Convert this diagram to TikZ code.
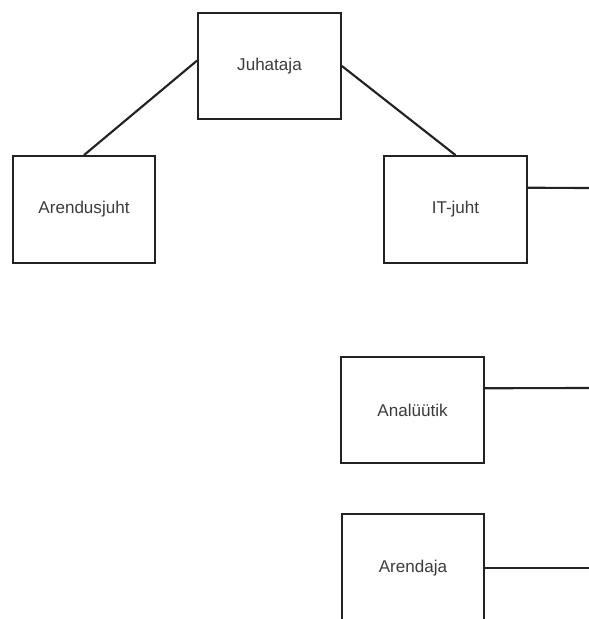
\documentclass[tikz,border=0pt]{standalone}
\usepackage{fontspec}
\setmainfont{Liberation Sans}
\usetikzlibrary{calc}
\definecolor{txt}{RGB}{60,60,60}
\definecolor{edge}{RGB}{34,34,34}
\tikzset{
  rolebox/.style={draw=edge, line width=1.6pt, fill=white, rectangle,
    minimum width=107pt, minimum height=80pt, inner sep=0pt,
    text=txt, font=\fontsize{12.8pt}{15pt}\selectfont},
  link/.style={draw=edge, line width=1.6pt}
}
\begin{document}
\begin{tikzpicture}[x=0.75pt,y=-0.75pt]
\useasboundingbox (0,0) rectangle (589,619);
\clip (0,0) rectangle (589,619);
\node[rolebox] (j) at (269.5,66) {Juhataja};
\node[rolebox] (a) at (84,209.5) {Arendusjuht};
\node[rolebox] (it) at (455.5,209.5) {IT-juht};
\node[rolebox] (an) at (412.5,410) {Analüütik};
\node[rolebox, minimum height=81pt] (ar) at (413,568) {Arendaja};
\coordinate (e1) at (592,188);
\coordinate (e2) at (592,388);
\coordinate (e3) at (592,568);
\draw[link] ($(j.north west)!0.45!(j.south west)$) -- (a.north);
\draw[link] (j.east) -- (it.north);
\draw[link] ($(it.north east)!0.3!(it.south east)$) -- (e1);
\draw[link] ($(an.north east)!0.3!(an.south east)$) -- (e2);
\draw[link] (ar.east) -- (e3);
\end{tikzpicture}
\end{document}
